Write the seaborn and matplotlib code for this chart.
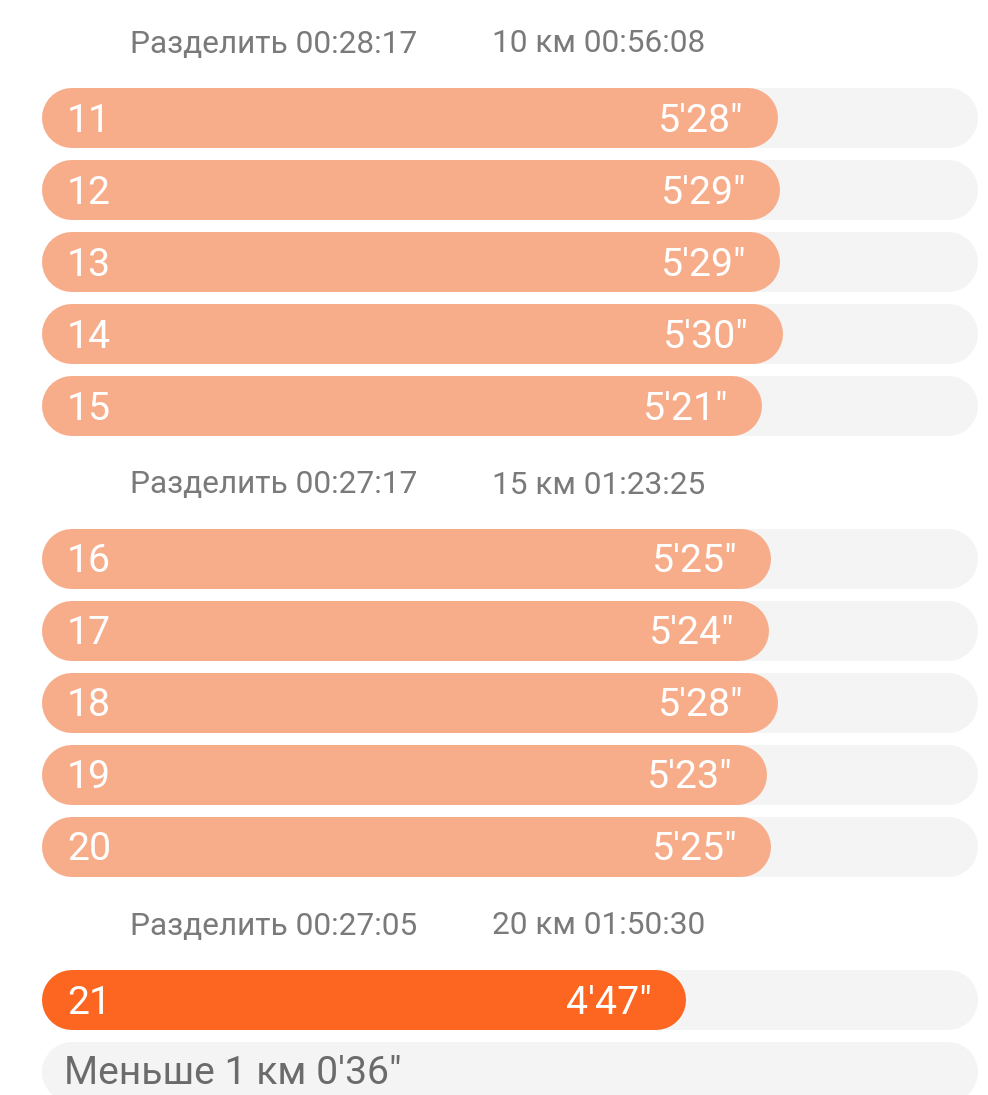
import matplotlib.pyplot as plt
import seaborn as sns

# pace per km split, seconds
km = [11, 12, 13, 14, 15, 16, 17, 18, 19, 20, 21]
pace_sec = [328, 329, 329, 330, 321, 325, 324, 328, 323, 325, 287]
pace_txt = ["5'28\"", "5'29\"", "5'29\"", "5'30\"", "5'21\"",
            "5'25\"", "5'24\"", "5'28\"", "5'23\"", "5'25\"", "4'47\""]
split_left = ["Разделить 00:28:17", "Разделить 00:27:17", "Разделить 00:27:05"]
split_right = ["10 км 00:56:08", "15 км 01:23:25", "20 км 01:50:30"]
rest_txt = "Меньше 1 км 0'36\""
track_sec = 417

sns.set_theme(style='white')
plt.rcParams['font.family'] = ['Roboto', 'DejaVu Sans']

W, H = 988, 1095
PX = 2.244          # pixels per second of pace
X0 = 42             # left edge of bars in px
BAR_H = 60          # bar height in px

def sec(px):
    return (px - X0) / PX

fig = plt.figure(figsize=(W / 100, H / 100), dpi=100)
ax = fig.add_axes([0, 0, 1, 1])
ax.set_xlim(sec(0), sec(W))
ax.set_ylim(H, 0)
ax.axis('off')

lw = BAR_H * 0.72
cap = (BAR_H / 2) / PX

light = '#f7ad8a'
hot = '#fc6621'
track = '#f4f4f4'
grey = '#7a7a7a'

# row layout: groups of five, header above each group
ys = []
y = 118
for i in range(len(km)):
    if i > 0 and i % 5 == 0:
        y += 81
    ys.append(y)
    y += 72

for g in range(3):
    hy = ys[g * 5] - 74
    ax.text(sec(130), hy, split_left[g], fontsize=22.8, color=grey,
            ha='left', va='center')
    ax.text(sec(492), hy, split_right[g], fontsize=22.8, color=grey,
            ha='left', va='center')

fastest = min(pace_sec)
for k, p, t, yy in zip(km, pace_sec, pace_txt, ys):
    ax.hlines(yy, cap, track_sec - cap, colors=track, linewidth=lw,
              capstyle='round')
    col = hot if p == fastest else light
    ax.hlines(yy, cap, p - cap, colors=col, linewidth=lw, capstyle='round')
    ax.text(sec(67), yy + 3, str(k), fontsize=28.3, color='white',
            ha='left', va='center')
    ax.text(p - 34 / PX, yy + 3, t, fontsize=28.3, color='white',
            ha='right', va='center')

# remaining partial km
ry = ys[-1] + 72
ax.hlines(ry, cap, track_sec - cap, colors=track, linewidth=lw,
          capstyle='round')
ax.text(sec(64), ry + 1, rest_txt, fontsize=28.2, color='#6b6b6b',
        ha='left', va='center')

fig.savefig('out.png', dpi=100)
